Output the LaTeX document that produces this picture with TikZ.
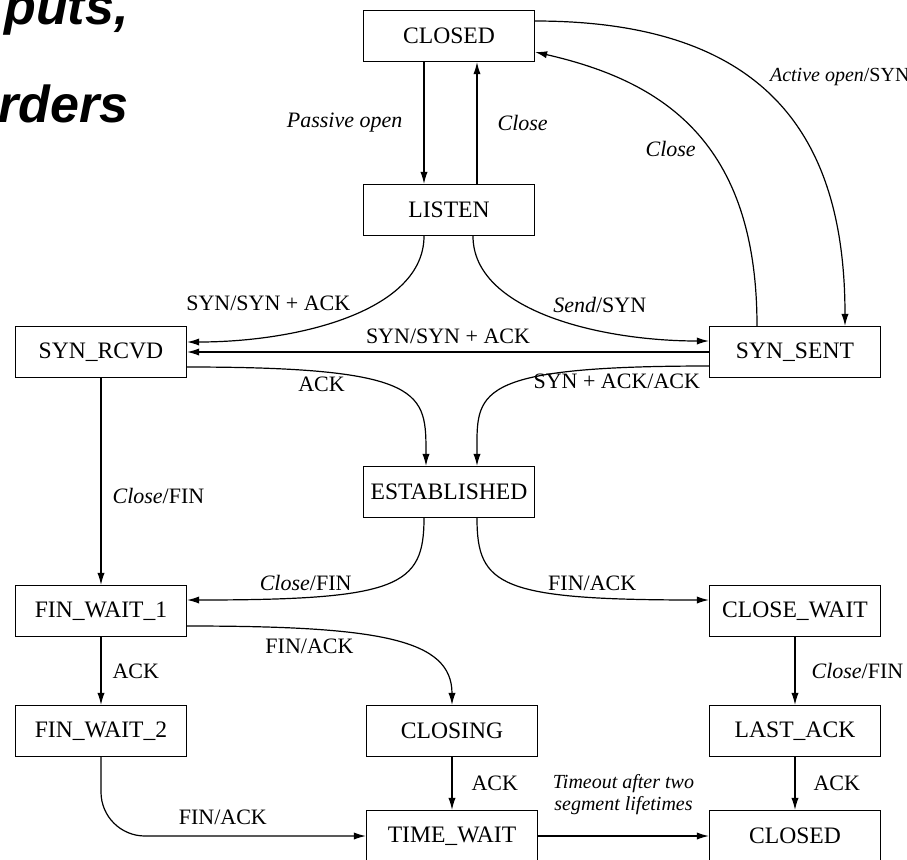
\documentclass[tikz,border=0pt]{standalone}
\usepackage{fontspec}
\setmainfont{Liberation Serif}
\newfontfamily\fragfont{Liberation Sans}
\usetikzlibrary{positioning,arrows.meta}

\begin{document}
\begin{tikzpicture}[
    state/.style={draw, line width=0.6pt, minimum width=85.5pt, minimum height=25.5pt, inner sep=2pt, font=\fontsize{11.8}{14}\selectfont},
    lbl/.style={inner sep=1.5pt, font=\fontsize{11}{13}\selectfont},
    arr/.style={line width=0.6pt, -{Latex[length=6pt,width=3.6pt]}},
    frag/.style={inner sep=0pt, anchor=base west, font=\fragfont\bfseries\itshape\fontsize{26}{30}\selectfont},
    node distance=60pt, on grid]
  \useasboundingbox (0,0) rectangle (453.5pt,-429.5pt);
  \node[frag] (puts) at (2pt,-12pt) {puts,};
  \node[frag] (rders) at (-1pt,-61pt) {rders};

  \node[state] (closed) at (224.5pt,-18pt) {CLOSED};
  \node[state, below=87pt of closed] (listen) {LISTEN};
  \node[state, below left=71pt and 174pt of listen] (synrcvd) {SYN\_RCVD};
  \node[state, below right=71pt and 173pt of listen] (synsent) {SYN\_SENT};
  \node[state, below=141pt of listen] (estab) {ESTABLISHED};
  \node[state, below=129.5pt of synrcvd] (finwait1) {FIN\_WAIT\_1};
  \node[state, below=129.5pt of synsent] (closewait) {CLOSE\_WAIT};
  \node[state, below=60pt of finwait1] (finwait2) {FIN\_WAIT\_2};
  \node[state, below=60pt of closewait] (lastack) {LAST\_ACK};
  \node[state, right=175.5pt of finwait2] (closing) {CLOSING};
  \node[state, below=52.5pt of closing] (timewait) {TIME\_WAIT};
  \node[state, below=52.5pt of lastack] (closedb) {CLOSED};

  \draw[arr] ([xshift=-12.5pt]closed.south) -- node[lbl, left=9pt] {\textit{Passive open}} ([xshift=-12.5pt]listen.north);
  \draw[arr] ([xshift=14pt]listen.north) -- node[lbl, right=8.5pt] {\textit{Close}} ([xshift=14pt]closed.south);
  \draw[arr] ([yshift=7.5pt]closed.east) .. controls +(118pt,0) and +(0,92.5pt) .. node[lbl, pos=0.46, anchor=south west, xshift=0pt, yshift=1pt, font=\fontsize{10}{12}\selectfont] {\textit{Active open}/SYN} ([xshift=25pt]synsent.north);
  \draw[arr] ([xshift=-19pt]synsent.north) .. controls +(0,92.5pt) and +(63.5pt,-14.5pt) .. node[lbl, pos=0.43, left=5pt] {\textit{Close}} ([yshift=-8pt]closed.east);
  \draw[arr] ([xshift=-12.5pt]listen.south) .. controls +(0,-37pt) and +(56.5pt,0) .. node[lbl, pos=0.5, anchor=south east, xshift=3pt, yshift=1pt] {SYN/SYN + ACK} ([yshift=5pt]synrcvd.east);
  \draw[arr] ([xshift=12pt]listen.south) .. controls +(0,-37pt) and +(-55pt,0) .. node[lbl, pos=0.5, anchor=south west] {\textit{Send}/SYN} ([yshift=5.5pt]synsent.west);
  \draw[arr] (synsent) -- node[lbl, above=2.5pt] {SYN/SYN + ACK} (synrcvd);
  \draw[arr] ([yshift=-7.5pt]synrcvd.east) .. controls +(120pt,0) and +(0,36.5pt) .. node[lbl, pos=0.24, below=1pt] {ACK} ([xshift=-11.5pt]estab.north);
  \draw[arr] ([yshift=-7pt]synsent.west) .. controls +(-120pt,0) and +(0,36.5pt) .. node[lbl, pos=0.15, below=1pt] {SYN + ACK/ACK} ([xshift=14pt]estab.north);
  \draw[arr] (synrcvd) -- node[lbl, pos=0.57, right=4pt] {\textit{Close}/FIN} (finwait1);
  \draw[arr] ([xshift=-12.5pt]estab.south) .. controls +(0,-34pt) and +(106pt,0) .. node[lbl, pos=0.77, above=1.5pt] {\textit{Close}/FIN} ([yshift=5.5pt]finwait1.east);
  \draw[arr] ([xshift=14pt]estab.south) .. controls +(0,-34pt) and +(-104.5pt,0) .. node[lbl, pos=0.77, above=1.5pt] {FIN/ACK} ([yshift=5.5pt]closewait.west);
  \draw[arr] ([yshift=-7.5pt]finwait1.east) .. controls +(96pt,0) and +(0,33pt) .. node[lbl, pos=0.25, below=3pt] {FIN/ACK} (closing.north);
  \draw[arr] (finwait1) -- node[lbl, right=4pt] {ACK} (finwait2);
  \draw[arr] (closewait) -- node[lbl, right=6.5pt] {\textit{Close}/FIN} (lastack);
  \draw[arr] (closing) -- node[lbl, right=8pt] {ACK} (timewait);
  \draw[arr] (lastack) -- node[lbl, right=7.5pt] {ACK} (closedb);
  \draw[arr, rounded corners=22pt] (finwait2.south) |- node[lbl, pos=0.73, above=4pt] {FIN/ACK} (timewait.west);
  \draw[arr] (timewait) -- node[lbl, above=9pt, align=center, font=\fontsize{10}{11}\selectfont\itshape] {Timeout after two\\segment lifetimes} (closedb);
\end{tikzpicture}
\end{document}
